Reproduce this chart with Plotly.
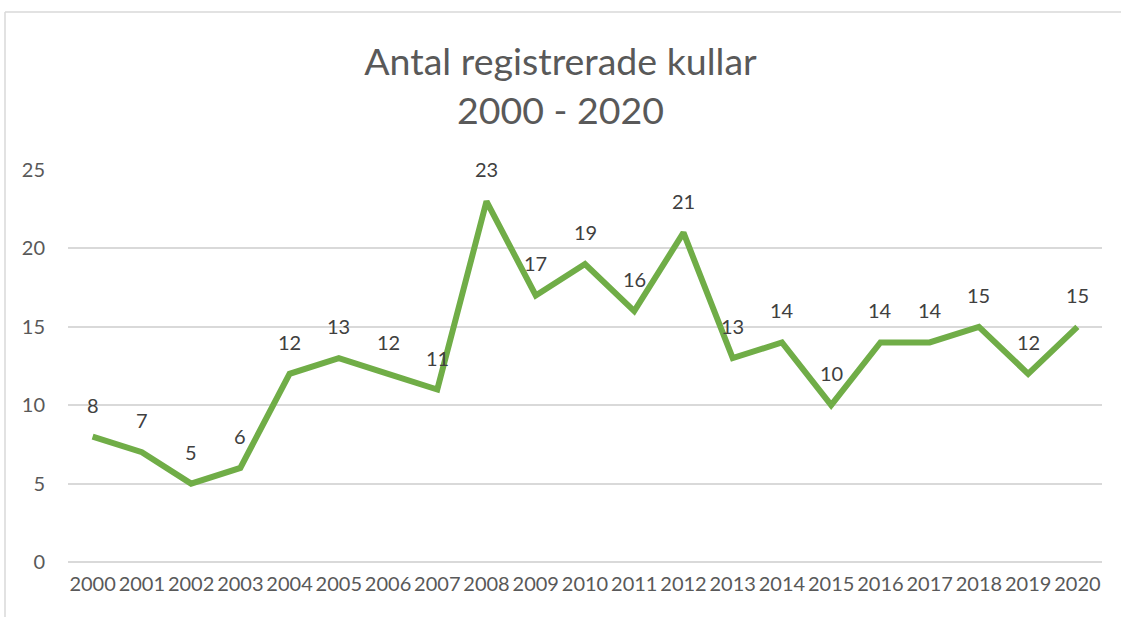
import plotly.graph_objects as go

years = [str(y) for y in range(2000, 2021)]
kullar = [8, 7, 5, 6, 12, 13, 12, 11, 23, 17, 19, 16, 21, 13, 14, 10, 14, 14, 15, 12, 15]
y_ticks = [0, 5, 10, 15, 20, 25]
title_text = "Antal registrerade kullar<br>2000 - 2020"

W, H = 1121, 617
L, R, T, B = 68, 19, 170, 55
pw, ph = W - L - R, H - T - B

fig = go.Figure()
fig.add_trace(go.Scatter(
    x=years, y=kullar, mode="lines",
    line=dict(color="#70AD47", width=6),
    hoverinfo="skip", showlegend=False,
))

for i, v in enumerate(kullar):
    fig.add_annotation(x=i, y=v, text=str(v), showarrow=False,
                       yshift=32, yanchor="middle",
                       font=dict(family="Lato", size=20, color="#404040"))

# outer chart border (left and top edges visible)
bx0 = (5 - L) / pw
by1 = (H - 12 - B) / ph
fig.add_shape(type="line", xref="paper", yref="paper",
              x0=bx0, x1=bx0, y0=-(B + 5) / ph, y1=by1,
              line=dict(color="#D9D9D9", width=1.5), layer="below")
fig.add_shape(type="line", xref="paper", yref="paper",
              x0=bx0, x1=(W + 5 - L) / pw, y0=by1, y1=by1,
              line=dict(color="#D9D9D9", width=1.5), layer="below")

fig.update_layout(
    width=W, height=H,
    margin=dict(l=L, r=R, t=T, b=B, autoexpand=False),
    paper_bgcolor="white", plot_bgcolor="white",
    title=dict(text=title_text, x=0.5, xanchor="center", y=(H - 75) / H, yanchor="middle",
               font=dict(family="Lato", size=37.5, color="#595959")),
    xaxis=dict(type="category", range=[-0.5, len(years) - 0.5], autorange=False,
               automargin=False, tickangle=0,
               showgrid=False, zeroline=False, showline=False,
               tickfont=dict(family="Lato", size=20, color="#595959"),
               ticks="", ticklabelstandoff=8),
    yaxis=dict(range=[0, 25], autorange=False, automargin=False, tickvals=y_ticks,
               showgrid=True, gridcolor="#D9D9D9",
               gridwidth=1.5, zeroline=True, zerolinecolor="#D9D9D9", zerolinewidth=1.5,
               showline=False,
               tickfont=dict(family="Lato", size=20, color="#595959"),
               ticks="", ticklabelstandoff=22),
    font=dict(family="Lato"),
)

fig.write_html("out.html", config={"displayModeBar": False},
               post_script="document.body.style.margin='0';")
